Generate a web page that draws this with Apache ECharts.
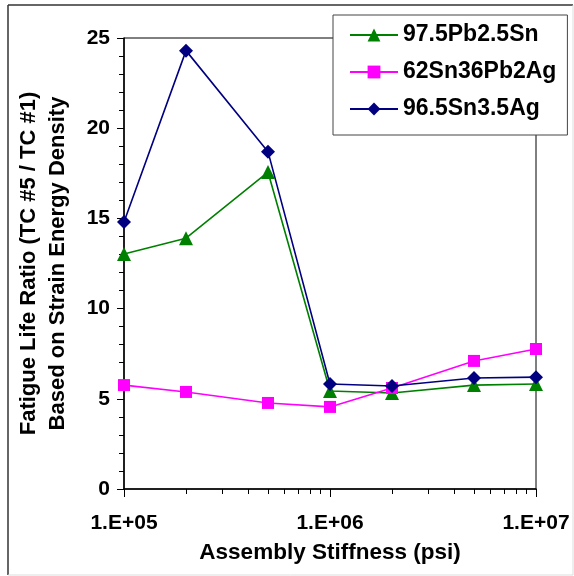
<!DOCTYPE html>
<html>
<head>
<meta charset="utf-8">
<script src="https://cdn.jsdelivr.net/npm/echarts@6/dist/echarts.min.js"></script>
<style>
  html, body { margin: 0; padding: 0; background: #fff; }
  #chart { width: 574px; height: 576px; }
</style>
</head>
<body>
<div id="chart"></div>
<script>
// stiffness values (psi)
var stiffness = [1e5, 2e5, 5e5, 1e6, 2e6, 5e6, 1e7];
var pbSn = [13.03, 13.9, 17.57, 5.43, 5.32, 5.76, 5.82];
var snPbAg = [5.76, 5.38, 4.77, 4.55, 5.6, 7.1, 7.76];
var snAg = [14.8, 24.3, 18.7, 5.82, 5.71, 6.15, 6.2];
var minorTicks = [2e5, 3e5, 4e5, 5e5, 6e5, 7e5, 8e5, 9e5, 2e6, 3e6, 4e6, 5e6, 6e6, 7e6, 8e6, 9e6];

function pairs(ys) {
  return stiffness.map(function (x, i) { return [x, ys[i]]; });
}

var chart = echarts.init(document.getElementById("chart"));
var font = "Liberation Sans, Arial, sans-serif";

var option = {
  backgroundColor: "#fff",
  animation: false,
  textStyle: { fontFamily: font },
  graphic: [
    { type: "line", shape: { x1: 8, y1: 5, x2: 573, y2: 5 }, style: { stroke: "#333", lineWidth: 1.5 } },
    { type: "line", shape: { x1: 8, y1: 5, x2: 8, y2: 575 }, style: { stroke: "#333", lineWidth: 1.5 } },
    { type: "line", shape: { x1: 573, y1: 5, x2: 573, y2: 575 }, style: { stroke: "#ddd", lineWidth: 1 } },
    { type: "line", shape: { x1: 8, y1: 575, x2: 573, y2: 575 }, style: { stroke: "#ddd", lineWidth: 1 } }
  ],
  grid: {
    left: 124, right: 38, top: 38, bottom: 87,
    show: true, borderColor: "#000", borderWidth: 1
  },
  legend: {
    orient: "vertical",
    left: 333, top: 15,
    padding: [8, 11, 14, 16],
    itemGap: 13,
    itemWidth: 48, itemHeight: 16,
    backgroundColor: "#fff",
    borderColor: "#444", borderWidth: 1,
    textStyle: { fontFamily: font, fontSize: 23, fontWeight: "bold", color: "#000", lineHeight: 24 },
    data: ["97.5Pb2.5Sn", "62Sn36Pb2Ag", "96.5Sn3.5Ag"]
  },
  xAxis: [
    {
      type: "log", logBase: 10, min: 1e5, max: 1e7,
      name: "Assembly Stiffness (psi)", nameLocation: "middle", nameGap: 52,
      nameTextStyle: { fontFamily: font, fontSize: 22.5, fontWeight: "bold", color: "#000" },
      axisLine: { lineStyle: { color: "#000", width: 1.5 } },
      axisTick: { length: 8, lineStyle: { color: "#000", width: 1 } },
      axisLabel: {
        margin: 24, fontFamily: font, fontSize: 21, fontWeight: "bold", color: "#000",
        formatter: function (v) { return "1.E+0" + Math.round(Math.log10(v)); }
      },
      splitLine: { show: false }
    },
    {
      type: "log", logBase: 10, min: 1e5, max: 1e7, position: "bottom",
      axisLine: { show: false },
      axisLabel: { show: false },
      axisTick: { show: true, length: 5, customValues: minorTicks, lineStyle: { color: "#000", width: 1 } },
      splitLine: { show: false }
    }
  ],
  yAxis: {
    type: "value", min: 0, max: 25, interval: 5,
    name: "Fatigue Life Ratio (TC #5 / TC #1)\nBased on Strain Energy Density",
    nameLocation: "middle", nameGap: 52,
    nameTextStyle: { fontFamily: font, fontSize: 22, fontWeight: "bold", color: "#000", lineHeight: 29 },
    axisLine: { show: true, lineStyle: { color: "#000", width: 1.5 } },
    axisTick: { show: true, length: 7, lineStyle: { color: "#000", width: 1 } },
    minorTick: { show: true, splitNumber: 5, length: 5, lineStyle: { color: "#000", width: 1 } },
    axisLabel: { margin: 14, fontFamily: font, fontSize: 21, fontWeight: "bold", color: "#000" },
    splitLine: { show: false }
  },
  series: [
    {
      name: "97.5Pb2.5Sn", type: "line", data: pairs(pbSn),
      symbol: "triangle", symbolSize: 14,
      lineStyle: { color: "#008000", width: 1.6 },
      itemStyle: { color: "#008000" }
    },
    {
      name: "62Sn36Pb2Ag", type: "line", data: pairs(snPbAg),
      symbol: "rect", symbolSize: 12,
      lineStyle: { color: "#ff00ff", width: 1.6 },
      itemStyle: { color: "#ff00ff" }
    },
    {
      name: "96.5Sn3.5Ag", type: "line", data: pairs(snAg),
      symbol: "diamond", symbolSize: 14,
      lineStyle: { color: "#000080", width: 1.6 },
      itemStyle: { color: "#000080" }
    }
  ]
};

chart.setOption(option);
</script>
</body>
</html>
